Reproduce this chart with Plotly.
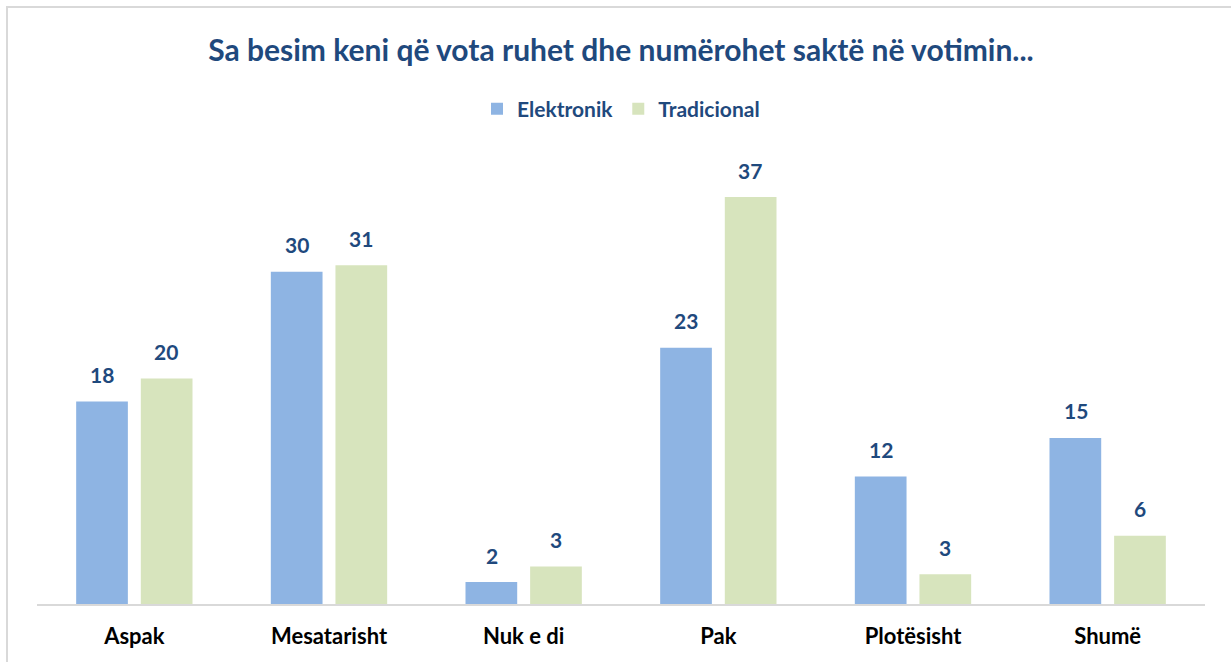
import plotly.graph_objects as go

categories = ["Aspak", "Mesatarisht", "Nuk e di", "Pak", "Plotësisht", "Shumë"]
elektronik = [18.4, 30.2, 2.0, 23.3, 11.6, 15.1]
tradicional = [20.5, 30.8, 3.4, 37.0, 2.7, 6.2]
elektronik_labels = ["18", "30", "2", "23", "12", "15"]
tradicional_labels = ["20", "31", "3", "37", "3", "6"]

BLUE = "#8EB4E3"
GREEN = "#D7E4BD"
DARK = "#1F497D"
FONT = "Lato"

W, H = 1231, 662
L, R, T, B = 37, W - 1205, 140, H - 604

fig = go.Figure()
fig.add_trace(go.Bar(x=categories, y=elektronik, name="<b>Elektronik</b>",
                     marker=dict(color=BLUE, line=dict(width=0))))
fig.add_trace(go.Bar(x=categories, y=tradicional, name="<b>Tradicional</b>",
                     marker=dict(color=GREEN, line=dict(width=0))))

annotations = []
for cat, v, lab in zip(categories, elektronik, elektronik_labels):
    annotations.append(dict(x=cat, y=v, text=f"<b>{lab}</b>", showarrow=False,
                            xshift=-32, yshift=27, yanchor="middle",
                            font=dict(family=FONT, size=21, color=DARK)))
for cat, v, lab in zip(categories, tradicional, tradicional_labels):
    annotations.append(dict(x=cat, y=v, text=f"<b>{lab}</b>", showarrow=False,
                            xshift=32, yshift=27, yanchor="middle",
                            font=dict(family=FONT, size=21, color=DARK)))

pw, ph = W - L - R, H - T - B
fig.add_shape(type="rect", xref="paper", yref="paper",
              x0=(7 - L) / pw, x1=(W + 20 - L) / pw,
              y0=(H - B - 7) / ph, y1=(H - B - (H + 20)) / ph,
              line=dict(color="#D9D9D9", width=2), fillcolor="rgba(0,0,0,0)", layer="below")

fig.update_layout(
    width=W, height=H,
    margin=dict(l=L, r=R, t=T, b=B, pad=0, autoexpand=False),
    paper_bgcolor="white", plot_bgcolor="white",
    barmode="group", bargap=0.336, bargroupgap=0.2,
    title=dict(text="<b>Sa besim keni që vota ruhet dhe numërohet saktë në votimin...</b>",
               x=0.5, xanchor="center", xref="paper", y=1 - 50 / H, yanchor="middle",
               font=dict(family=FONT, size=30, color=DARK)),
    legend=dict(orientation="h", x=0.5, xanchor="center", y=(H - B - 109) / ph, yanchor="middle",
                font=dict(family=FONT, size=21, color=DARK), itemwidth=30,
                traceorder="normal", bgcolor="rgba(0,0,0,0)"),
    showlegend=True,
    annotations=annotations,
    xaxis=dict(showline=True, linecolor="#D9D9D9", linewidth=2, ticks="",
               showgrid=False, zeroline=False, ticklabelstandoff=12, automargin=False,
               tickfont=dict(family=FONT, size=22, color="#000000"),
               tickprefix="<b>", ticksuffix="</b>"),
    yaxis=dict(range=[0, ph / 11.0], visible=False, showgrid=False, zeroline=False,
               automargin=False),
)

fig.write_html("out.html", config={"displayModeBar": False},
               post_script="document.body.style.margin='0';")
